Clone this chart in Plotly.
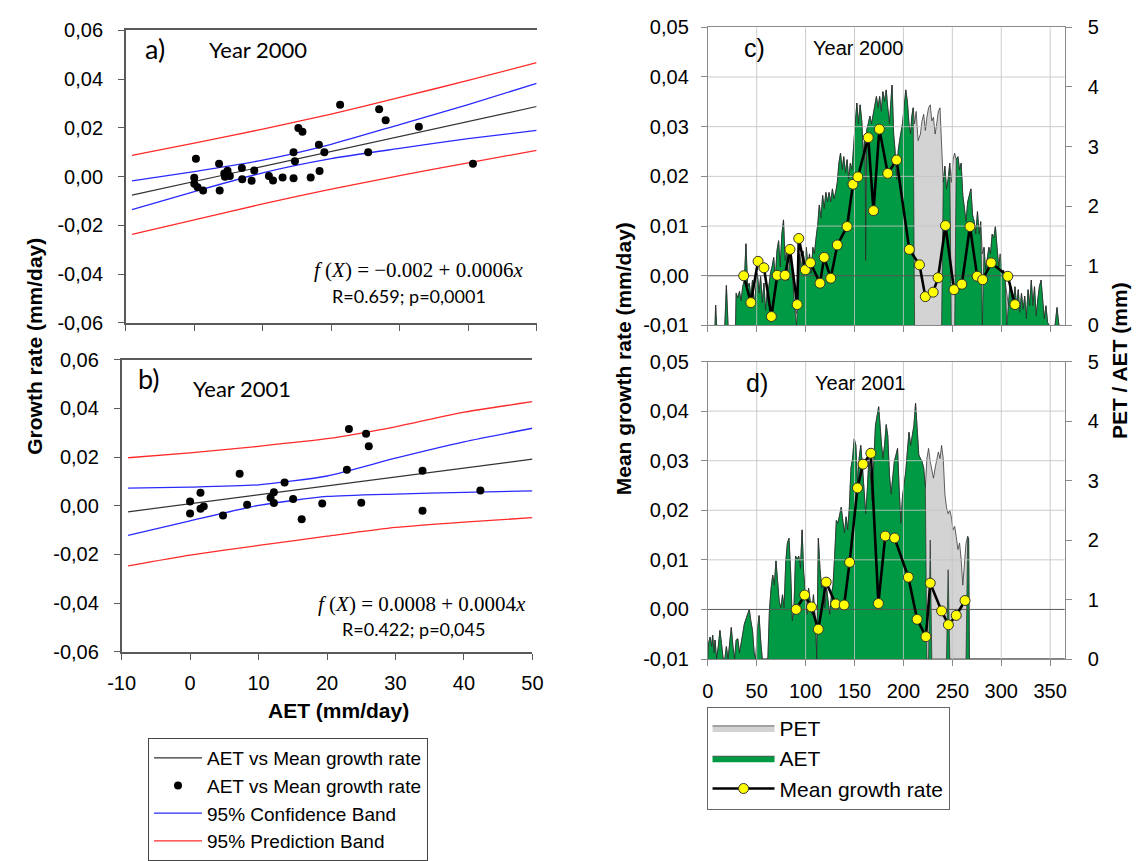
import plotly.graph_objects as go

W, H = 1144, 861

# ---------------- Panel a (2000) : AET vs mean growth rate ----------------
a_aet = [0.24, 0, 0, 0.48, 1.29, 3.62, 3.71, 4.38, 4.86, 4.48, 5.19, 6.95, 7.0, 8.38, 8.76,
         10.9, 11.5, 12.9, 14.5, 14.7, 14.5, 15.2, 15.8, 17.0, 18.2, 18.3, 19.0, 21.3, 25.4,
         27.0, 27.95, 32.8, 40.7]
a_growth = [0.0073, -0.0004, -0.0029, -0.0043, -0.0057, 0.0053, -0.0057, 0.0013, 0.0024, 0.0000,
            0.0003, 0.0036, -0.0011, -0.0017, 0.0025, 0.0003, -0.0016, -0.0003, 0.0100, 0.0063,
            -0.0007, 0.0200, 0.0184, -0.0003, 0.0131, 0.0023, 0.0100, 0.0295, 0.0100, 0.0277,
            0.0232, 0.0205, 0.0053]
a_fit_x = [-9.1, 50]
a_fit_y = [-0.0076, 0.0288]
a_band_x = [-9.1, 0, 10, 20, 30, 40, 50]
a_conf_up = [-0.0017, 0.0021, 0.0068, 0.0133, 0.0214, 0.0296, 0.0383]
a_conf_lo = [-0.0135, -0.0061, 0.0016, 0.0074, 0.0116, 0.0156, 0.0190]
a_pred_up = [0.0087, 0.0138, 0.0195, 0.0257, 0.0325, 0.0395, 0.0468]
a_pred_lo = [-0.0237, -0.0177, -0.0112, -0.0051, 0.0004, 0.0057, 0.0108]

# ---------------- Panel b (2001) ----------------
b_aet = [0, 0, 1.52, 1.52, 2.0, 4.81, 7.24, 8.33, 11.76, 12.24, 12.24, 13.8, 15.05, 16.3,
         19.3, 22.9, 23.2, 25.0, 25.7, 26.1, 33.95, 33.95, 42.4]
b_growth = [0.0017, -0.0032, 0.0053, -0.0012, -0.0003, -0.0040, 0.0131, 0.0004, 0.0033, 0.0055,
            0.0011, 0.0095, 0.0028, -0.0055, 0.0009, 0.0148, 0.0315, 0.0012, 0.0295, 0.0244,
            0.0144, -0.0021, 0.0063]
b_fit_x = [-9.05, 50]
b_fit_y = [-0.0025, 0.0191]
b_band_x = [-9.05, 0, 10, 20, 30, 40, 50]
b_conf_up = [0.0072, 0.0076, 0.0086, 0.0122, 0.0195, 0.0262, 0.0318]
b_conf_lo = [-0.0122, -0.0062, 0.0001, 0.0038, 0.0048, 0.0055, 0.0061]
b_pred_up = [0.0197, 0.0217, 0.0244, 0.0275, 0.0324, 0.0384, 0.0427]
b_pred_lo = [-0.0247, -0.0203, -0.0163, -0.0125, -0.0089, -0.0067, -0.0049]

# ---------------- Panel c (2000) : daily PET / AET (mm) and mean growth rate ----------------
c_day = [0, 7.4, 8.0, 9.0, 17.4, 19.0, 20.7, 28.4, 29.0, 30.7,
         32.4, 34.0, 35.7, 37.4, 39.0, 40.7, 42.4, 44.0, 45.7, 47.4,
         49.0, 50.7, 52.4, 54.0, 55.7, 57.4, 59.0, 60.7, 62.4, 64.0,
         65.7, 67.4, 69.0, 70.7, 72.4, 74.0, 75.7, 77.4, 79.0, 80.7,
         82.4, 84.0, 85.7, 87.4, 89.0, 90.7, 92.4, 94.0, 95.7, 97.4,
         99.0, 100.7, 102.4, 104.0, 105.7, 107.4, 109.0, 110.7, 112.4, 114.0,
         115.7, 117.4, 119.0, 120.7, 122.4, 124.0, 125.7, 127.4, 129.0, 130.7,
         132.4, 134.0, 135.7, 137.4, 139.0, 140.7, 142.4, 144.0, 145.7, 147.4,
         149.0, 150.7, 152.4, 154.0, 155.7, 157.4, 159.0, 160.7, 161.4, 162.4,
         164.0, 165.7, 167.4, 169.0, 170.7, 172.4, 174.0, 175.7, 177.4, 179.0,
         180.7, 182.4, 184.0, 185.7, 187.4, 188.4, 190.0, 191.4, 193.0, 194.7,
         196.7, 199.0, 200.7, 202.4, 204.0, 205.7, 207.4, 208.4, 210.0, 211.4,
         213.0, 215.0, 217.4, 219.0, 220.7, 222.4, 224.0, 225.7, 227.4, 229.0,
         230.7, 232.4, 234.0, 235.7, 237.4, 239.0, 240.7, 242.4, 244.0, 245.7,
         247.4, 249.0, 250.7, 252.4, 254.0, 255.7, 257.4, 259.0, 260.7, 262.4,
         264.0, 265.7, 267.4, 269.0, 270.7, 272.4, 274.0, 275.7, 277.4, 279.0,
         280.7, 282.4, 284.0, 285.7, 287.4, 289.0, 290.7, 292.4, 294.0, 295.7,
         297.4, 299.0, 300.7, 302.4, 304.0, 305.7, 307.4, 309.0, 310.7, 312.4,
         314.0, 315.7, 317.4, 319.0, 320.7, 322.4, 324.0, 325.7, 327.4, 329.0,
         330.7, 332.4, 334.0, 335.7, 337.4, 339.0, 340.7, 342.4, 344.0, 345.7,
         347.4, 349.0, 355.0, 357.0, 359.0, 365.0]
c_pet = [0, 0, 0.34, 0, 0, 0.67, 0, 0, 0.54, 0.46,
         0.57, 0.41, 0.65, 0.76, 1.37, 0.65, 0.71, 0.49, 0.76, 0.33,
         0.60, 0.87, 0.54, 0.82, 0.38, 0.71, 0.25, 0.54, 0.65, 0.87,
         0.98, 1.14, 0.76, 1.25, 1.42, 0.98, 1.53, 1.77, 1.09, 1.25,
         0.76, 1.20, 0.98, 0.54, 0.27, 0.20, 0.49, 1.20, 0.93, 1.25,
         1.03, 1.31, 0.98, 1.20, 0.87, 1.31, 1.20, 1.47, 1.69, 2.02,
         1.80, 2.18, 1.96, 2.23, 2.07, 2.23, 2.07, 2.29, 2.12, 2.23,
         2.40, 2.72, 2.89, 2.61, 2.83, 2.56, 2.78, 2.45, 2.72, 2.61,
         3.05, 3.38, 3.73, 3.38, 3.70, 3.43, 2.83, 3.21, 1.09, 3.27,
         3.38, 3.51, 3.38, 3.54, 3.65, 3.84, 3.65, 3.84, 3.59, 3.92,
         3.76, 3.95, 3.65, 3.38, 3.81, 4.03, 3.21, 2.94, 2.45, 2.94,
         3.16, 3.38, 3.65, 3.95, 3.76, 3.38, 3.21, 3.49, 3.65, 3.38,
         3.59, 3.10, 3.21, 3.43, 3.54, 3.27, 3.49, 3.65, 3.70, 3.43,
         3.49, 3.21, 3.38, 3.59, 3.65, 3.05, 2.40, 2.67, 2.29, 2.45,
         2.72, 2.40, 2.78, 2.89, 2.78, 2.83, 2.61, 2.72, 2.18, 1.96,
         1.74, 2.07, 2.18, 2.29, 1.85, 1.74, 1.53, 1.91, 1.53, 1.74,
         1.20, 1.31, 0.93, 1.09, 1.31, 1.20, 1.53, 1.47, 1.66, 1.31,
         0.98, 1.20, 0.87, 0.93, 0.76, 0.54, 0.33, 0.71, 0.49, 0.27,
         0.65, 0.33, 0.60, 0.22, 0.54, 0.27, 0.49, 0.11, 0.60, 0.33,
         0.76, 0.33, 0.65, 0.16, 0.44, 0.65, 0.76, 0.38, 0.11, 0.33,
         0.05, 0, 0, 0.30, 0, 0]
c_aet = [0, 0, 0.34, 0, 0, 0.67, 0, 0, 0.54, 0.46,
         0.57, 0.41, 0.65, 0.76, 1.37, 0.65, 0.71, 0.49, 0.76, 0.33,
         0.60, 0.87, 0.54, 0.82, 0.38, 0.71, 0.25, 0.54, 0.65, 0.87,
         0.98, 1.14, 0.76, 1.25, 1.42, 0.98, 1.53, 1.77, 1.09, 1.25,
         0.76, 1.20, 0.98, 0.54, 0.27, 0, 0.49, 1.20, 0.93, 1.25,
         1.03, 1.31, 0.98, 1.20, 0.87, 1.31, 1.20, 1.47, 1.69, 2.02,
         1.80, 2.18, 1.96, 2.23, 2.07, 2.23, 2.07, 2.29, 2.12, 2.23,
         2.40, 2.72, 2.89, 2.61, 2.83, 2.56, 2.78, 2.45, 2.72, 2.61,
         3.05, 3.38, 3.73, 3.38, 3.70, 3.43, 2.83, 3.21, 1.09, 3.27,
         3.38, 3.51, 3.38, 3.54, 3.65, 3.84, 3.65, 3.84, 3.59, 3.92,
         3.76, 3.95, 3.65, 3.38, 3.81, 4.03, 3.21, 2.94, 2.45, 2.94,
         3.16, 3.38, 3.65, 3.95, 3.76, 3.38, 3.21, 3.49, 3.65, 0,
         0, 0, 0, 0, 0, 0, 0, 0, 0, 0,
         0, 0, 0, 0, 0, 0, 2.40, 2.67, 2.29, 2.45,
         2.72, 0, 0, 0, 2.78, 2.83, 2.61, 2.72, 2.18, 1.96,
         1.74, 2.07, 2.18, 2.29, 1.85, 1.74, 1.53, 1.91, 1.53, 1.74,
         0, 1.31, 0.93, 1.09, 1.31, 1.20, 1.53, 1.47, 1.66, 1.31,
         0.98, 1.20, 0.87, 0.93, 0.76, 0, 0.33, 0.71, 0.49, 0.27,
         0.65, 0.33, 0.60, 0.22, 0.54, 0.27, 0.49, 0.11, 0.60, 0.33,
         0.76, 0.33, 0.65, 0.16, 0.44, 0.65, 0.76, 0.38, 0.11, 0.33,
         0.05, 0, 0, 0.30, 0, 0]
c_mday = [36.7, 44.0, 51.4, 57.4, 65.0, 71.0, 79.0, 84.0, 91.4, 93.0,
          99.7, 105.0, 114.7, 119.0, 125.7, 132.4, 142.4, 148.4, 153.4, 164.0,
          169.4, 175.4, 184.0, 193.0, 206.0, 216.4, 222.4, 230.4, 235.4, 243.0,
          251.7, 259.7, 268.0, 275.4, 281.0, 289.7, 306.7, 314.0]
c_mgrowth = [0.0000, -0.0054, 0.0029, 0.0016, -0.0082, 0.0001, 0.0001, 0.0053, -0.0058, 0.0075,
             0.0012, 0.0026, -0.0015, 0.0037, -0.0005, 0.0062, 0.0099, 0.0184, 0.0199, 0.0278,
             0.0131, 0.0295, 0.0206, 0.0233, 0.0053, 0.0022, -0.0042, -0.0033, -0.0004, 0.0101,
             -0.0028, -0.0017, 0.0099, -0.0001, -0.0008, 0.0026, -0.0001, -0.0058]

# ---------------- Panel d (2001) ----------------
d_day = [0, 0.7, 2.4, 4.0, 5.0, 6.4, 7.4, 9.0, 10.7, 12.4,
         14.0, 15.7, 17.4, 19.0, 20.7, 22.4, 24.0, 25.7, 27.4, 29.0,
         30.7, 32.4, 34.0, 35.7, 37.4, 39.0, 40.7, 42.4, 44.0, 45.7,
         47.4, 49.0, 50.7, 52.4, 54.0, 55.7, 61.4, 63.0, 64.7, 66.4,
         68.0, 69.7, 71.4, 73.0, 74.7, 76.4, 78.0, 79.7, 81.4, 83.0,
         84.7, 86.4, 88.0, 89.7, 91.4, 93.0, 94.7, 96.4, 98.0, 99.7,
         101.4, 103.0, 104.7, 106.4, 108.0, 109.7, 111.4, 113.0, 114.7, 116.4,
         118.0, 119.7, 121.4, 123.0, 124.7, 126.4, 128.0, 129.7, 131.4, 133.0,
         134.7, 136.4, 138.0, 139.7, 141.4, 143.0, 144.7, 146.4, 148.0, 149.7,
         151.4, 153.0, 154.7, 156.4, 158.0, 159.7, 161.4, 163.0, 164.7, 166.4,
         168.0, 169.7, 171.4, 173.0, 174.7, 177.4, 179.0, 180.7, 182.4, 184.0,
         185.7, 187.4, 189.0, 190.7, 192.4, 194.0, 195.7, 197.4, 199.0, 200.7,
         202.4, 204.0, 205.7, 207.4, 209.0, 210.7, 212.4, 214.0, 215.7, 217.4,
         219.0, 220.7, 222.4, 224.0, 225.7, 227.4, 229.0, 230.7, 232.4, 234.0,
         235.7, 237.4, 239.0, 240.7, 242.4, 244.0, 245.7, 247.4, 249.0, 250.7,
         252.4, 254.0, 255.7, 257.4, 259.0, 260.7, 262.4, 264.0, 265.7, 266.7,
         267.4, 365.0]
d_pet = [0, 0.26, 0.37, 0.21, 0.40, 0.10, 0.32, 0, 0.21, 0.48,
         0.26, 0, 0, 0.21, 0, 0.32, 0.53, 0.21, 0, 0.32,
         0.34, 0.10, 0.26, 0.48, 0.59, 0.67, 0.75, 0.83, 0.64, 0.48,
         0.10, 0, 0.48, 0.73, 0.32, 0, 0, 0.81, 1.19, 1.41,
         1.24, 1.65, 1.30, 0.97, 0.86, 1.08, 0.86, 1.63, 1.95, 2.03,
         1.46, 0.64, 0.81, 1.73, 1.68, 1.73, 1.52, 2.17, 1.46, 1.08,
         0.75, 1.19, 0.97, 0.75, 1.08, 0.70, 0, 2.03, 1.52, 1.19,
         1.30, 0.86, 1.19, 0.97, 0.75, 1.08, 1.24, 1.73, 2.33, 2.28,
         2.39, 2.55, 2.33, 2.12, 2.39, 2.17, 2.55, 3.21, 3.37, 3.70,
         3.59, 2.94, 3.37, 3.59, 3.26, 2.83, 2.44, 2.83, 3.37, 3.04,
         2.66, 3.32, 3.92, 4.08, 4.24, 3.64, 3.37, 3.59, 3.94, 3.75,
         3.10, 2.77, 3.10, 3.32, 3.43, 3.54, 2.83, 2.28, 2.72, 2.94,
         3.15, 3.48, 3.81, 3.59, 3.75, 3.92, 4.30, 3.92, 3.43, 3.37,
         3.32, 3.21, 2.88, 3.37, 3.54, 3.32, 3.15, 3.04, 3.21, 3.37,
         3.48, 3.37, 3.59, 3.37, 2.77, 2.55, 2.44, 2.50, 2.39, 2.17,
         2.23, 2.06, 1.84, 1.95, 1.68, 1.24, 1.63, 1.95, 2.06, 2.01,
         0, 0]
d_aet = [0, 0.26, 0.37, 0.21, 0.40, 0.10, 0.32, 0, 0.21, 0.48,
         0.26, 0, 0, 0.21, 0, 0.32, 0.53, 0.21, 0, 0.32,
         0.34, 0.10, 0.26, 0.48, 0.59, 0.67, 0.75, 0.83, 0.64, 0.48,
         0.10, 0, 0.48, 0.73, 0.32, 0, 0, 0.81, 1.19, 1.41,
         1.24, 1.65, 1.30, 0.97, 0.86, 1.08, 0.86, 1.63, 1.95, 2.03,
         1.46, 0.64, 0.81, 1.73, 1.68, 1.73, 1.52, 2.17, 1.46, 1.08,
         0.75, 1.19, 0.97, 0.75, 1.08, 0.70, 0, 2.03, 1.52, 1.19,
         1.30, 0.86, 1.19, 0.97, 0.75, 1.08, 1.24, 1.73, 2.33, 2.28,
         2.39, 2.55, 2.33, 2.12, 2.39, 2.17, 2.55, 3.21, 3.37, 3.70,
         3.59, 2.94, 3.37, 3.59, 3.26, 2.83, 2.44, 2.83, 3.37, 3.04,
         2.66, 3.32, 3.92, 4.08, 4.24, 3.64, 3.37, 3.59, 3.94, 3.75,
         3.10, 2.77, 3.10, 3.32, 3.43, 3.54, 2.83, 2.28, 2.72, 2.94,
         3.15, 3.48, 3.81, 3.59, 3.75, 3.92, 4.30, 3.92, 3.43, 3.37,
         3.32, 3.21, 2.88, 0, 0, 2.00, 0, 0, 0, 0,
         0, 0, 0, 0, 0, 0, 1.50, 0, 0, 0,
         0, 0, 0, 0, 0, 0, 0, 0, 2.06, 2.01,
         0, 0]
d_mday = [90.4, 99.0, 106.0, 113.0, 121.0, 130.7, 139.4, 145.0, 153.0, 158.7,
          166.7, 174.4, 181.4, 191.0, 205.0, 214.0, 223.0, 227.4, 239.0, 246.0,
          254.0, 263.0]
d_mgrowth = [0.0000, 0.0029, 0.0005, -0.0040, 0.0055, 0.0011, 0.0009, 0.0095, 0.0245, 0.0293,
             0.0315, 0.0012, 0.0148, 0.0144, 0.0065, -0.0020, -0.0055, 0.0053, -0.0003, -0.0031,
             -0.0012, 0.0018]

# ---------------- tick labels ----------------
lr_yvals = [-0.06, -0.04, -0.02, 0.0, 0.02, 0.04, 0.06]
lr_ytext = ["-0,06", "-0,04", "-0,02", "0,00", "0,02", "0,04", "0,06"]
lr_xvals = [-10, 0, 10, 20, 30, 40, 50]
lr_xtext = ["-10", "0", "10", "20", "30", "40", "50"]
gr_yvals = [-0.01, 0.0, 0.01, 0.02, 0.03, 0.04, 0.05]
gr_ytext = ["-0,01", "0,00", "0,01", "0,02", "0,03", "0,04", "0,05"]
et_yvals = [0, 1, 2, 3, 4, 5]
day_vals = [0, 50, 100, 150, 200, 250, 300, 350]
DAY_RANGE = [0, 365]
GR_RANGE = [-0.01, 0.05]

for a_, b_ in [(a_aet, a_growth), (b_aet, b_growth), (c_day, c_pet), (c_day, c_aet),
               (c_mday, c_mgrowth), (d_day, d_pet), (d_day, d_aet), (d_mday, d_mgrowth)]:
    assert len(a_) == len(b_)

# ---------------- styling constants ----------------
ARIAL = "Liberation Sans, Arial, sans-serif"
CALIB = "Lato, Open Sans, sans-serif"
SERIF = "Liberation Serif, DejaVu Serif, serif"
GREEN = "#009a44"
GRAYFILL = "#d3d3d3"
BLUE = "#2a2aff"
RED = "#ff2a2a"
GRID = "rgba(195,195,195,0.85)"


def dx(l, r):
    return [l / W, r / W]


def dy(t, b):
    return [1 - b / H, 1 - t / H]


fig = go.Figure()


def band(xs, up, lo):
    return xs + [None] + xs, up + [None] + lo


def add_regression(xa, ya, px, py, fx, fy, bx, cu, cl, pu, pl, show):
    x, y = band(bx, pu, pl)
    fig.add_trace(go.Scatter(x=x, y=y, mode="lines", line=dict(color=RED, width=1.3, shape="spline", smoothing=0.6),
                             name="95% Prediction Band", legend="legend", legendrank=4, showlegend=show,
                             xaxis=xa, yaxis=ya, hoverinfo="skip"))
    x, y = band(bx, cu, cl)
    fig.add_trace(go.Scatter(x=x, y=y, mode="lines", line=dict(color=BLUE, width=1.3, shape="spline", smoothing=0.6),
                             name="95% Confidence Band", legend="legend", legendrank=3, showlegend=show,
                             xaxis=xa, yaxis=ya, hoverinfo="skip"))
    fig.add_trace(go.Scatter(x=fx, y=fy, mode="lines", line=dict(color="#333333", width=1.2),
                             name="AET vs Mean growth rate", legend="legend", legendrank=1, showlegend=show,
                             xaxis=xa, yaxis=ya))
    fig.add_trace(go.Scatter(x=px, y=py, mode="markers", marker=dict(color="black", size=8),
                             name="AET vs Mean growth rate", legend="legend", legendrank=2, showlegend=show,
                             xaxis=xa, yaxis=ya))


add_regression("x", "y", a_aet, a_growth, a_fit_x, a_fit_y, a_band_x, a_conf_up, a_conf_lo, a_pred_up, a_pred_lo, True)
add_regression("x2", "y2", b_aet, b_growth, b_fit_x, b_fit_y, b_band_x, b_conf_up, b_conf_lo, b_pred_up, b_pred_lo, False)


def add_et(xa, ya, days, pet, aet, show):
    fig.add_trace(go.Scatter(x=days, y=pet, mode="lines", fill="tozeroy", fillcolor=GRAYFILL,
                             line=dict(color="#3a3a3a", width=0.8), name="PET", legend="legend2",
                             legendrank=1, showlegend=show, xaxis=xa, yaxis=ya))
    fig.add_trace(go.Scatter(x=days, y=aet, mode="lines", fill="tozeroy", fillcolor=GREEN,
                             line=dict(color="#2a2a2a", width=0.7), name="AET", legend="legend2",
                             legendrank=2, showlegend=show, xaxis=xa, yaxis=ya))


def add_grid(xa, ya):
    # reference grid is drawn over the PET/AET areas, under the growth-rate line
    gx, gy = [], []
    for v in gr_yvals:
        if v not in (0.0, GR_RANGE[0], GR_RANGE[1]):
            gx += [DAY_RANGE[0], DAY_RANGE[1], None]
            gy += [v, v, None]
    for v in day_vals:
        if v != DAY_RANGE[0]:
            gx += [v, v, None]
            gy += [GR_RANGE[0], GR_RANGE[1], None]
    fig.add_trace(go.Scatter(x=gx, y=gy, mode="lines", line=dict(color=GRID, width=1),
                             showlegend=False, hoverinfo="skip", xaxis=xa, yaxis=ya))
    fig.add_trace(go.Scatter(x=DAY_RANGE, y=[0.0, 0.0], mode="lines", line=dict(color="#555555", width=1),
                             showlegend=False, hoverinfo="skip", xaxis=xa, yaxis=ya))


def add_growth(xa, ya, days, g, show):
    fig.add_trace(go.Scatter(x=days, y=g, mode="lines+markers", line=dict(color="black", width=2.6),
                             marker=dict(color="#ffff00", size=10, line=dict(color="#333333", width=1)),
                             name="Mean growth rate", legend="legend2", legendrank=3, showlegend=show,
                             xaxis=xa, yaxis=ya))


add_et("x3", "y3", c_day, c_pet, c_aet, True)
add_et("x4", "y4", d_day, d_pet, d_aet, False)
add_grid("x5", "y5")
add_growth("x5", "y5", c_mday, c_mgrowth, True)
add_grid("x6", "y6")
add_growth("x6", "y6", d_mday, d_mgrowth, False)

tickfont = dict(family=ARIAL, size=20, color="black")
LAX = "#5a5a5a"
RAX = "#8a8a8a"

common_lr_x = dict(range=[-10, 50], tickvals=lr_xvals, ticktext=lr_xtext, ticks="outside", ticklen=6,
                   tickcolor=LAX, showline=True, linecolor=LAX, linewidth=1.5, mirror=True,
                   showgrid=False, zeroline=False, tickfont=tickfont, ticklabelstandoff=6)
common_lr_y = dict(range=[-0.06, 0.06], tickvals=lr_yvals, ticktext=lr_ytext, ticks="outside", ticklen=6,
                   tickcolor=LAX, showline=True, linecolor=LAX, linewidth=1.5,
                   showgrid=False, zeroline=False, tickfont=tickfont, ticklabelstandoff=11)

PC = dx(709.3, 1074.3)
YC = dy(16.7, 322.7)
YD = dy(359.7, 665.0)

right_x = dict(domain=PC, range=DAY_RANGE, tickvals=day_vals, ticks="outside", ticklen=6,
               tickcolor=RAX, showgrid=False, showline=True, linecolor=RAX, linewidth=1, mirror=True,
               zeroline=False, tickfont=tickfont, ticklabelstandoff=8)
right_gy = dict(range=GR_RANGE, side="left", tickvals=gr_yvals, ticktext=gr_ytext,
                ticks="outside", ticklen=6, tickcolor=RAX, showgrid=False, zeroline=False,
                showline=True, linecolor=RAX, linewidth=1, mirror=True, tickfont=tickfont,
                ticklabelstandoff=8)
right_ey = dict(range=[0, 5], side="right", tickvals=et_yvals, ticks="outside",
                ticklen=6, tickcolor=RAX, showline=False, showgrid=False, zeroline=False,
                tickfont=tickfont, ticklabelstandoff=12)

fig.update_layout(
    width=W, height=H, autosize=False,
    margin=dict(l=0, r=0, t=0, b=0),
    paper_bgcolor="white", plot_bgcolor="rgba(0,0,0,0)",
    font=dict(family=ARIAL, color="black"),
    xaxis=dict(domain=dx(114.3, 534.3), anchor="y", showticklabels=False, **common_lr_x),
    yaxis=dict(domain=dy(20, 320), anchor="x", **common_lr_y),
    xaxis2=dict(domain=dx(110, 530), anchor="y2", showticklabels=True, **common_lr_x),
    yaxis2=dict(domain=dy(357.7, 657.7), anchor="x2", **common_lr_y),
    xaxis3=dict(domain=PC, range=DAY_RANGE, anchor="y3", visible=False),
    yaxis3=dict(domain=YC, anchor="x3", **right_ey),
    xaxis4=dict(domain=PC, range=DAY_RANGE, anchor="y4", visible=False),
    yaxis4=dict(domain=YD, anchor="x4", **right_ey),
    xaxis5=dict(anchor="y5", showticklabels=False, **right_x),
    yaxis5=dict(domain=YC, anchor="x5", **right_gy),
    xaxis6=dict(anchor="y6", showticklabels=True, **right_x),
    yaxis6=dict(domain=YD, anchor="x6", **right_gy),
    legend=dict(x=137 / W, y=1 - 746 / H, xanchor="left", yanchor="top", bgcolor="white",
                bordercolor="#444444", borderwidth=1, font=dict(family=ARIAL, size=19, color="black"),
                itemwidth=48, tracegroupgap=0),
    legend2=dict(x=708 / W, y=1 - 714 / H, xanchor="left", yanchor="top", bgcolor="white",
                 bordercolor="#666666", borderwidth=1, font=dict(family=ARIAL, size=21, color="black"),
                 itemwidth=62, tracegroupgap=0),
    showlegend=True,
)


def ann(text, x, y, size, family, xanchor="center", angle=0, bold=False):
    if bold:
        text = "<b>" + text + "</b>"
    fig.add_annotation(text=text, x=x / W, y=1 - y / H, xref="paper", yref="paper", showarrow=False,
                       xanchor=xanchor, yanchor="middle", textangle=angle,
                       font=dict(family=family, size=size, color="black"))


ann("a)", 144, 38, 27, CALIB)
ann("Year 2000", 249, 40, 22, CALIB)
ann("b)", 138, 377, 27, CALIB)
ann("Year 2001", 233, 387, 22, CALIB)
ann("<i>f</i> (<i>X</i>) = −0.002 + 0.0006<i>x</i>", 522, 266, 21, SERIF, xanchor="right")
ann("R=0.659; p=0,0001", 404, 292, 18, CALIB)
ann("<i>f</i> (<i>X</i>) = 0.0008 + 0.0004<i>x</i>", 525, 609, 21, SERIF, xanchor="right")
ann("R=0.422; p=0,045", 408, 634, 18, CALIB)
ann("c)", 757, 38, 25, ARIAL)
ann("Year 2000", 815, 38, 20, ARIAL, xanchor="left")
ann("d)", 760, 382, 25, ARIAL)
ann("Year 2001", 817, 382, 20, ARIAL, xanchor="left")
ann("Growth rate (mm/day)", 21, 344, 21, ARIAL, angle=-90, bold=True)
ann("AET (mm/day)", 332, 718, 21, ARIAL, bold=True)
ann("Mean growth rate (mm/day)", 624, 357, 21, ARIAL, angle=-90, bold=True)
ann("PET / AET (mm)", 1131, 359, 21, ARIAL, angle=-90, bold=True)

fig.write_html("out.html")
